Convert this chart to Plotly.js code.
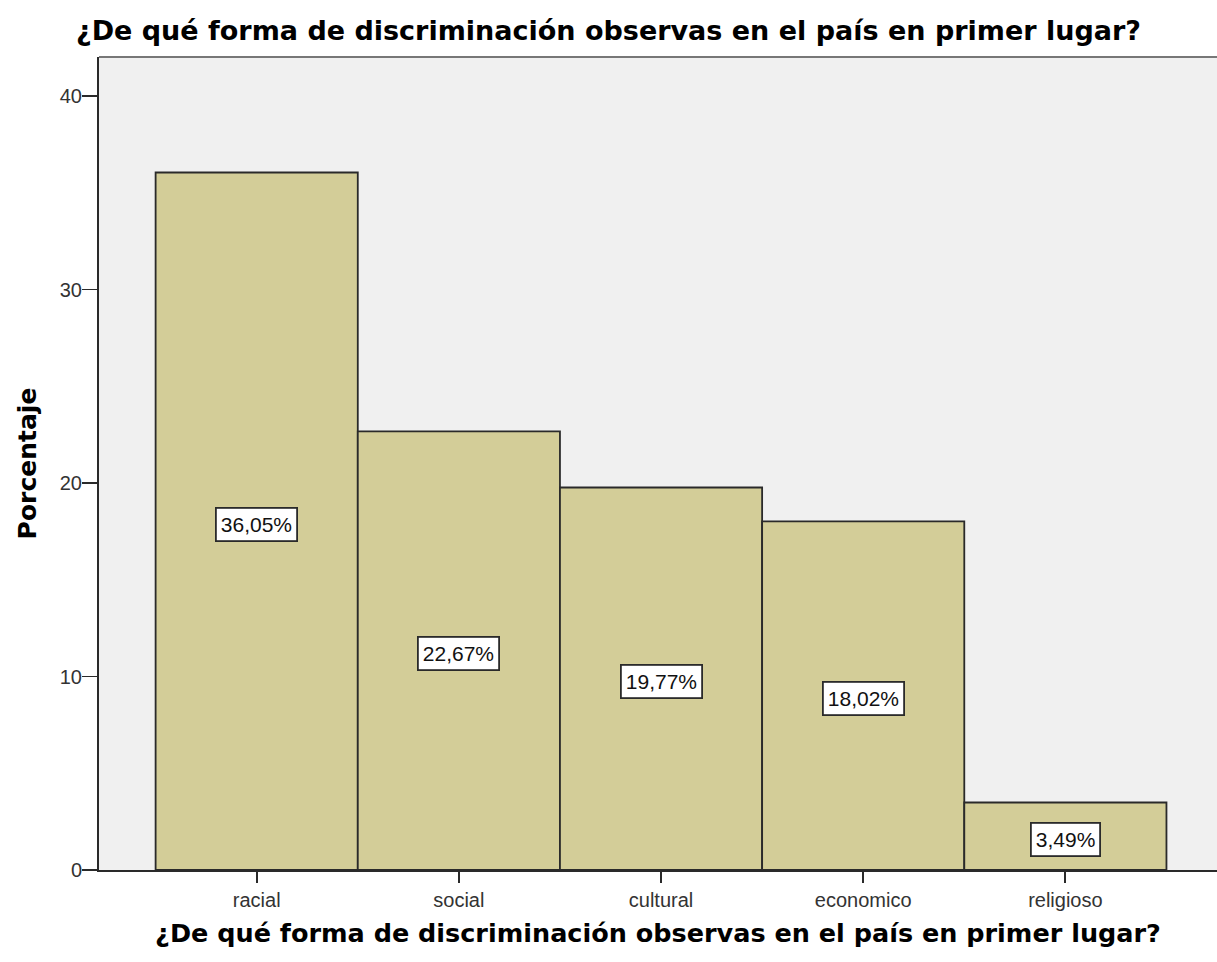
<!DOCTYPE html>
<html>
<head>
<meta charset="utf-8">
<script src="https://cdn.plot.ly/plotly-3.0.1.min.js"></script>
<style>html,body{margin:0;padding:0;background:#fff;}#chart{width:1217px;height:962px;}</style>
</head>
<body>
<div id="chart"></div>
<script>
const categories = ["racial", "social", "cultural", "economico", "religioso"];
const percentages = [36.05, 22.67, 19.77, 18.02, 3.49];
const yTickValues = [0, 10, 20, 30, 40];
const titleText = "¿De qué forma de discriminación observas en el país en primer lugar?";
const yTitleText = "Porcentaje";

const fmt = v => v.toFixed(2).replace(".", ",") + "%";

const trace = {
  type: "bar",
  x: categories,
  y: percentages,
  width: 1,
  marker: {color: "#d3cd98", line: {color: "#2a2a2a", width: 1.8}},
  hoverinfo: "x+y"
};

const annotations = categories.map((c, i) => ({
  x: c, y: percentages[i] / 2, xref: "x", yref: "y", yshift: -3,
  text: fmt(percentages[i]), showarrow: false,
  bgcolor: "#fff", bordercolor: "#2a2a2a", borderwidth: 1.8, borderpad: 4,
  font: {family: "Liberation Sans, Arial", size: 21, color: "#111"}
}));

const layout = {
  width: 1217, height: 962,
  margin: {l: 99, r: 0, t: 57, b: 92},
  paper_bgcolor: "#fff",
  plot_bgcolor: "#f0f0f0",
  bargap: 0,
  showlegend: false,
  title: {
    text: titleText, xref: "container", yref: "container",
    x: 76 / 1217, xanchor: "left", y: 1 - 31 / 962, yanchor: "middle",
    font: {family: "DejaVu Sans, sans-serif", size: 27, color: "#000", weight: "bold"}
  },
  xaxis: {
    type: "category", range: [-0.78, 4.75], automargin: false,
    showgrid: false, zeroline: false, showline: true, linecolor: "#2a2a2a", linewidth: 2,
    ticks: "outside", ticklen: 11, tickcolor: "#2a2a2a", tickwidth: 1.8,
    tickfont: {family: "Liberation Sans, Arial", size: 20, color: "#333"},
    title: {text: titleText, standoff: 14,
      font: {family: "DejaVu Sans, sans-serif", size: 25.5, color: "#000", weight: "bold"}}
  },
  yaxis: {
    range: [0, 42.02], tickvals: yTickValues, automargin: false,
    showgrid: false, zeroline: false, showline: true, linecolor: "#2a2a2a", linewidth: 2,
    ticks: "outside", ticklen: 15, tickcolor: "#2a2a2a", tickwidth: 1.8,
    ticklabelstandoff: -4,
    tickfont: {family: "Liberation Sans, Arial", size: 20, color: "#333"},
    title: {text: yTitleText, standoff: 16,
      font: {family: "DejaVu Sans, sans-serif", size: 25, color: "#000", weight: "bold"}}
  },
  shapes: [{type: "line", xref: "paper", yref: "paper", x0: 0, x1: 1, y0: 1, y1: 1,
    line: {color: "#777", width: 2}}],
  annotations: annotations
};

Plotly.newPlot("chart", [trace], layout, {displayModeBar: false, staticPlot: true});
</script>
</body>
</html>
